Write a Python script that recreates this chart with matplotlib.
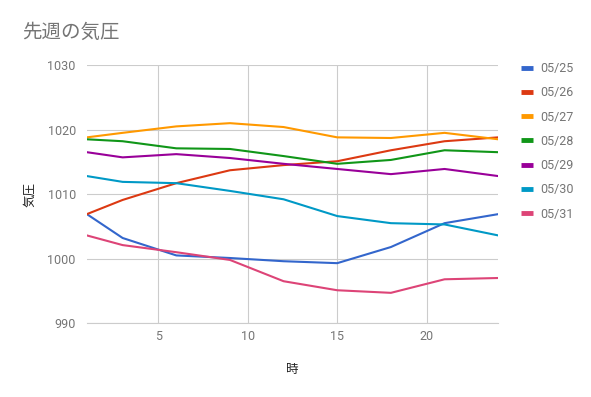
import matplotlib
matplotlib.use("Agg")
import matplotlib.pyplot as plt
from matplotlib.lines import Line2D

plt.rcParams['font.family'] = ['Roboto', 'Noto Sans CJK JP', 'DejaVu Sans']

hours = [1, 3, 6, 9, 12, 15, 18, 21, 24]
days = ['05/25', '05/26', '05/27', '05/28', '05/29', '05/30', '05/31']
pressure = {
    '05/25': [1006.9, 1003.2, 1000.5, 1000.1, 999.6, 999.3, 1001.8, 1005.5, 1006.9],
    '05/26': [1006.9, 1009.1, 1011.7, 1013.7, 1014.5, 1015.1, 1016.8, 1018.2, 1018.8],
    '05/27': [1018.8, 1019.5, 1020.5, 1021.0, 1020.4, 1018.8, 1018.7, 1019.5, 1018.5],
    '05/28': [1018.5, 1018.2, 1017.1, 1017.0, 1015.9, 1014.7, 1015.3, 1016.8, 1016.5],
    '05/29': [1016.5, 1015.7, 1016.2, 1015.6, 1014.7, 1013.9, 1013.1, 1013.9, 1012.8],
    '05/30': [1012.8, 1011.9, 1011.7, 1010.5, 1009.2, 1006.6, 1005.5, 1005.3, 1003.6],
    '05/31': [1003.6, 1002.1, 1001.0, 999.8, 996.5, 995.1, 994.7, 996.8, 997.0],
}
colors = ['#3366cc', '#dc3912', '#ff9900', '#109618', '#990099', '#0099c6', '#dd4477']

fig = plt.figure(figsize=(5.91, 3.97), dpi=100)
ax = fig.add_axes([0.147, 0.186, 0.696, 0.65])

for d, c in zip(days, colors):
    ax.plot(hours, pressure[d], color=c, lw=1.5, label=d)

ax.set_xlim(1, 24)
ax.set_ylim(990, 1030)
ax.set_xticks([5, 10, 15, 20])
ax.set_yticks([990, 1000, 1010, 1020, 1030])
ax.grid(True, color='#cccccc', lw=0.8)
ax.set_axisbelow(True)
for s in ['top', 'right', 'left']:
    ax.spines[s].set_visible(False)
ax.spines['bottom'].set_color('#cccccc')
ax.tick_params(length=0, labelsize=9, labelcolor='#757575')
ax.tick_params(axis='x', pad=5)
ax.tick_params(axis='y', pad=8)

ax.set_xlabel('時', fontsize=9, color='#222222', labelpad=14)
ax.set_ylabel('気圧', fontsize=9, color='#222222', labelpad=8)

fig.text(0.037, 0.917, '先週の気圧', fontsize=14, color='#757575',
         va='center', ha='left')

handles = [Line2D([], [], color=c, lw=3.5, solid_capstyle='butt') for c in colors]
fig.legend(handles, days, loc='upper left', bbox_to_anchor=(0.862, 0.872),
           frameon=False, fontsize=9, labelcolor='#757575', handlelength=1.0,
           handletextpad=0.55, labelspacing=0.9)

fig.savefig('out.png', dpi=100)
